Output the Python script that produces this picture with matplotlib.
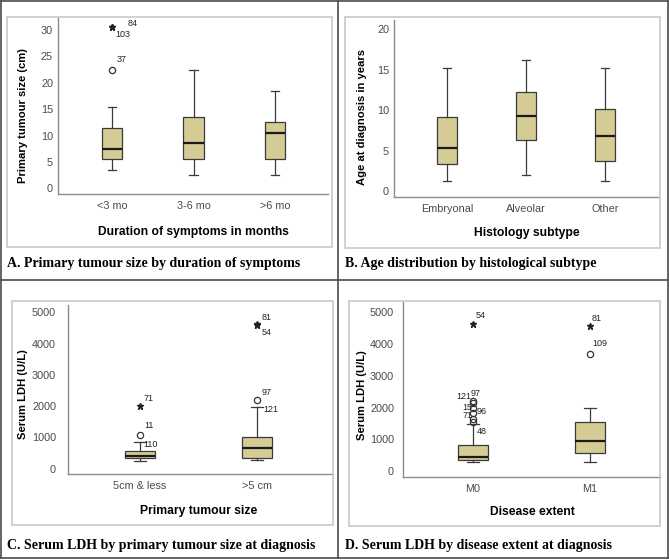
import matplotlib
matplotlib.use('Agg')
import matplotlib.pyplot as plt
from matplotlib.patches import Rectangle
from matplotlib.lines import Line2D

W, H = 669, 560

# ---- data ----
# A. primary tumour size (cm) by duration of symptoms
a_cats = ['<3 mo', '3-6 mo', '>6 mo']
a_low = [3.5, 2.5, 2.5]
a_q1 = [5.5, 5.5, 5.5]
a_med = [7.5, 8.5, 10.5]
a_q3 = [11.5, 13.5, 12.5]
a_high = [15.5, 22.5, 18.5]
a_out_pos = [1, 1, 1]
a_out_val = [30.5, 30.5, 22.5]
a_out_kind = ['*', '*', 'o']
a_out_label = ['84', '103', '37']

# B. age at diagnosis by histology subtype
b_cats = ['Embryonal', 'Alveolar', 'Other']
b_low = [1.3, 2.0, 1.3]
b_q1 = [3.3, 6.3, 3.7]
b_med = [5.3, 9.3, 6.8]
b_q3 = [9.2, 12.2, 10.2]
b_high = [15.2, 16.2, 15.2]
b_out_pos = []
b_out_val = []
b_out_kind = []
b_out_label = []

# C. serum LDH by primary tumour size
c_cats = ['5cm & less', '>5 cm']
c_low = [260, 267]
c_q1 = [340, 352]
c_med = [410, 650]
c_q3 = [570, 1013]
c_high = [860, 1972]
c_out_pos = [1, 1, 1, 2, 2, 2, 2]
c_out_val = [2004, 1090, 860, 4627, 4600, 2196, 1972]
c_out_kind = ['*', 'o', '', '*', '*', 'o', '']
c_out_label = ['71', '11', '110', '81', '54', '97', '121']

# D. serum LDH by disease extent
d_cats = ['M0', 'M1']
d_low = [280, 273]
d_q1 = [350, 578]
d_med = [440, 956]
d_q3 = [820, 1534]
d_high = [1490, 1975]
d_out_pos = [1, 1, 1, 1, 1, 1, 1, 2, 2]
d_out_val = [4643, 2216, 2134, 1985, 1828, 1639, 1544, 4569, 3687]
d_out_kind = ['*', 'o', 'o', 'o', 'o', 'o', 'o', '*', 'o']
d_out_label = ['54', '97', '121', '15', '96', '71', '48', '81', '109']

# ---- layout (pixels, y measured from the top) ----
panels = [
    dict(cats=a_cats, low=a_low, q1=a_q1, med=a_med, q3=a_q3, high=a_high,
         opos=a_out_pos, oval=a_out_val, okind=a_out_kind, olab=a_out_label,
         loff=[(16, -4), (3, 7), (5, -10)],
         frame=(7, 17, 332, 247), ax=(58, 18, 328, 194),
         xlim=(0.337, 3.65), ylim=(-1.08, 32.3), yticks=range(0, 31, 5), width=0.25,
         ylabel='Primary tumour size (cm)', ylab_xy=(23, 116),
         xlabel='Duration of symptoms in months', xlab_xy=(193, 232),
         caption='A. Primary tumour size by duration of symptoms', cap_xy=(7, 263),
         ypad=5),
    dict(cats=b_cats, low=b_low, q1=b_q1, med=b_med, q3=b_q3, high=b_high,
         opos=b_out_pos, oval=b_out_val, okind=b_out_kind, olab=b_out_label,
         loff=[],
         frame=(345, 17, 660, 248), ax=(394, 20, 658, 197),
         xlim=(0.33, 3.67), ylim=(-0.74, 21.16), yticks=range(0, 21, 5), width=0.25,
         ylabel='Age at diagnosis in years', ylab_xy=(362, 117),
         xlabel='Histology subtype', xlab_xy=(527, 233),
         caption='B. Age distribution by histological subtype', cap_xy=(345, 263),
         ypad=5),
    dict(cats=c_cats, low=c_low, q1=c_q1, med=c_med, q3=c_q3, high=c_high,
         opos=c_out_pos, oval=c_out_val, okind=c_out_kind, olab=c_out_label,
         loff=[(4, -8), (4, -9), (3, 3), (5, -7), (5, 8), (5, -8), (6, 2)],
         frame=(12, 301, 333, 525), ax=(68, 305, 333, 474),
         xlim=(0.385, 2.65), ylim=(-170, 5235), yticks=range(0, 5001, 1000), width=0.26,
         ylabel='Serum LDH (U/L)', ylab_xy=(23, 394),
         xlabel='Primary tumour size', xlab_xy=(199, 511),
         caption='C. Serum LDH by primary tumour size at diagnosis', cap_xy=(7, 545),
         ypad=12),
    dict(cats=d_cats, low=d_low, q1=d_q1, med=d_med, q3=d_q3, high=d_high,
         opos=d_out_pos, oval=d_out_val, okind=d_out_kind, olab=d_out_label,
         loff=[(3, -8), (-2, -7), (-17, -7), (-11, -1), (4, -1), (-11, -3), (4, 9), (2, -8), (2, -11)],
         frame=(349, 301, 660, 526), ax=(403, 302, 660, 477),
         xlim=(0.40, 2.60), ylim=(-189, 5326), yticks=range(0, 5001, 1000), width=0.25,
         ylabel='Serum LDH (U/L)', ylab_xy=(362, 395),
         xlabel='Disease extent', xlab_xy=(532, 512),
         caption='D. Serum LDH by disease extent at diagnosis', cap_xy=(345, 545),
         ypad=9),
]

BOX_FILL = '#d4cc94'
EDGE = '#3a3a3a'
AXIS_GREY = '#8c8c8c'
FRAME_GREY = '#c8c8c8'
SANS = 'Liberation Sans'
SERIF = 'Liberation Serif'


def fx(x):
    return x / W


def fy(y):
    return 1 - y / H


fig = plt.figure(figsize=(W / 100, H / 100), dpi=100)
fig.patch.set_facecolor('white')

# outer table lines
for (x0, y0, x1, y1) in [(1, 1, 668, 1), (1, 558, 668, 558), (1, 1, 1, 558),
                         (668, 1, 668, 558), (338, 1, 338, 558), (1, 280, 668, 280)]:
    fig.add_artist(Line2D([fx(x0), fx(x1)], [fy(y0), fy(y1)], color='#4a4a4a', lw=1.2))

for p in panels:
    l, t, r, b = p['frame']
    fig.add_artist(Rectangle((fx(l), fy(b)), (r - l) / W, (b - t) / H,
                             transform=fig.transFigure, fill=False,
                             edgecolor=FRAME_GREY, lw=1.2))

    l, t, r, b = p['ax']
    ax = fig.add_axes([fx(l), fy(b), (r - l) / W, (b - t) / H])
    ax.set_facecolor('none')

    n = len(p['cats'])
    stats = []
    for i in range(n):
        stats.append(dict(whislo=p['low'][i], q1=p['q1'][i], med=p['med'][i],
                          q3=p['q3'][i], whishi=p['high'][i], fliers=[]))
    positions = list(range(1, n + 1))
    ax.bxp(stats, positions=positions, widths=p['width'], capwidths=0.1,
           patch_artist=True, showfliers=False,
           boxprops=dict(facecolor=BOX_FILL, edgecolor=EDGE, linewidth=0.9),
           medianprops=dict(color='#1a1a1a', linewidth=1.6),
           whiskerprops=dict(color=EDGE, linewidth=0.9),
           capprops=dict(color=EDGE, linewidth=0.9))

    for pos, val, kind, lab, off in zip(p['opos'], p['oval'], p['okind'], p['olab'], p['loff']):
        if kind == 'o':
            ax.plot(pos, val, 'o', mfc='none', mec='#333333', mew=0.9, ms=4.5, clip_on=False)
        elif kind == '*':
            ax.plot(pos, val, '*', color='#222222', ms=4.5, clip_on=False)
        ax.annotate(lab, (pos, val), xytext=(off[0], -off[1]), textcoords='offset pixels',
                    ha='left', va='center', fontsize=6.5, family=SANS, color='#222222',
                    annotation_clip=False)

    ax.set_xlim(*p['xlim'])
    ax.set_ylim(*p['ylim'])
    ax.set_xticks(positions)
    ax.set_xticklabels(p['cats'])
    ax.set_yticks(list(p['yticks']))
    ax.tick_params(axis='both', length=0, labelsize=7.8, labelcolor='#4a4a4a')
    ax.tick_params(axis='y', pad=p['ypad'] / 1.389)
    ax.tick_params(axis='x', pad=5)
    for lbl in ax.get_xticklabels() + ax.get_yticklabels():
        lbl.set_family(SANS)
    for side in ['top', 'right']:
        ax.spines[side].set_visible(False)
    for side in ['left', 'bottom']:
        ax.spines[side].set_color(AXIS_GREY)
        ax.spines[side].set_linewidth(1.0)

    fig.text(fx(p['ylab_xy'][0]), fy(p['ylab_xy'][1]), p['ylabel'], rotation=90,
             ha='center', va='center', fontsize=8.1, fontweight='bold', family=SANS)
    fig.text(fx(p['xlab_xy'][0]), fy(p['xlab_xy'][1]), p['xlabel'],
             ha='center', va='center', fontsize=8.7, fontweight='bold', family=SANS)
    fig.text(fx(p['cap_xy'][0]), fy(p['cap_xy'][1]), p['caption'],
             ha='left', va='center', fontsize=10, fontweight='bold', family=SERIF)

fig.savefig('out.png', dpi=100)
